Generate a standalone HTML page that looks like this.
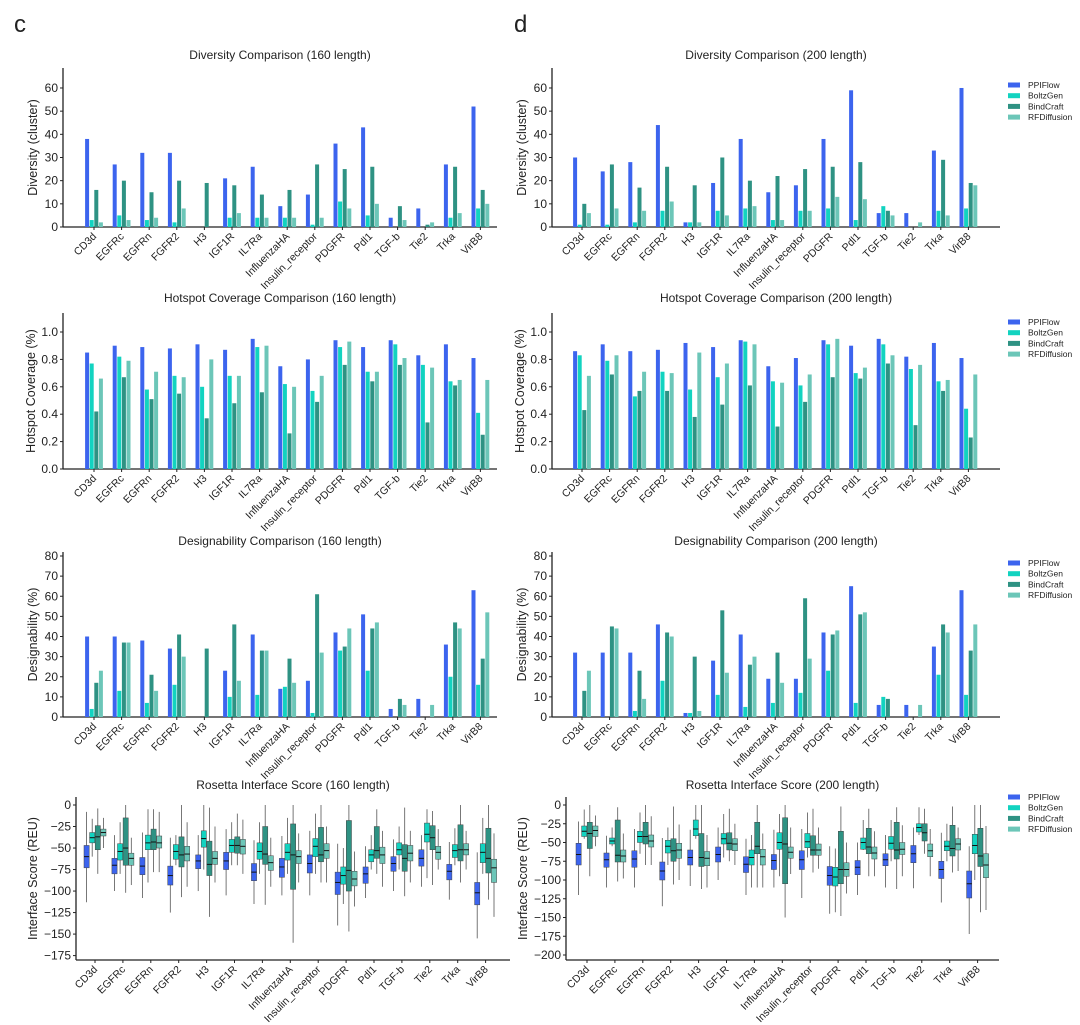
<!DOCTYPE html>
<html><head><meta charset="utf-8"><style>
body{margin:0;background:#fff;}
svg{display:block;font-family:"Liberation Sans",Arial,sans-serif;}
</style></head><body>
<svg id="fig" width="1080" height="1025" viewBox="0 0 1080 1025" xmlns="http://www.w3.org/2000/svg"></svg>
<script>
const categories=["CD3d","EGFRc","EGFRn","FGFR2","H3","IGF1R","IL7Ra","InfluenzaHA","Insulin_receptor","PDGFR","Pdl1","TGF-b","Tie2","Trka","VirB8"];
const seriesNames=["PPIFlow","BoltzGen","BindCraft","RFDiffusion"];
const div160PPI=[38,27,32,32,0,21,26,9,14,36,43,4,8,27,52];
const div160Boltz=[3,5,3,2,0,4,4,4,1,11,5,0,0,4,8];
const div160Bind=[16,20,15,20,19,18,14,16,27,25,26,9,1,26,16];
const div160RFD=[2,3,4,8,0,6,4,4,4,8,10,3,2,6,10];
const div200PPI=[30,24,28,44,2,19,38,15,18,38,59,6,6,33,60];
const div200Boltz=[1,1,2,7,2,7,8,3,7,8,3,9,0,7,8];
const div200Bind=[10,27,17,26,18,30,20,22,25,26,28,7,0,29,19];
const div200RFD=[6,8,7,11,2,5,9,3,7,13,12,5,2,5,18];
const hot160PPI=[.85,.90,.89,.88,.91,.87,.95,.75,.80,.94,.89,.94,.83,.91,.81];
const hot160Boltz=[.77,.82,.58,.68,.60,.68,.89,.62,.57,.89,.71,.91,.76,.64,.41];
const hot160Bind=[.42,.67,.51,.55,.37,.48,.56,.26,.49,.76,.64,.76,.34,.61,.25];
const hot160RFD=[.66,.79,.71,.67,.80,.68,.90,.60,.68,.93,.71,.81,.74,.65,.65];
const hot200PPI=[.86,.91,.86,.87,.92,.89,.94,.75,.81,.94,.90,.95,.82,.92,.81];
const hot200Boltz=[.83,.79,.53,.71,.58,.67,.93,.64,.61,.91,.70,.91,.73,.64,.44];
const hot200Bind=[.43,.69,.57,.57,.38,.47,.61,.31,.49,.67,.66,.77,.32,.57,.23];
const hot200RFD=[.68,.83,.71,.70,.85,.77,.91,.63,.69,.95,.74,.83,.76,.65,.69];
const des160PPI=[40,40,38,34,0,23,41,14,18,42,51,4,9,36,63];
const des160Boltz=[4,13,7,16,0,10,11,15,2,33,23,0,0,20,16];
const des160Bind=[17,37,21,41,34,46,33,29,61,35,44,9,0,47,29];
const des160RFD=[23,37,13,30,0,18,33,17,32,44,47,6,6,44,52];
const des200PPI=[32,32,32,46,2,28,41,19,19,42,65,6,6,35,63];
const des200Boltz=[0,0,3,18,2,11,5,7,12,23,7,10,0,21,11];
const des200Bind=[13,45,23,42,30,53,26,32,59,41,51,9,0,46,33];
const des200RFD=[23,44,9,40,3,22,30,17,29,43,52,0,6,42,46];
const ros160PPI=[[-113,-73,-60,-47,-8],[-100,-80,-70,-62,-35],[-108,-81,-71,-61,-32],[-125,-93,-82,-71,-38],[-100,-74,-65,-58,-35],[-105,-75,-65,-55,-28],[-115,-88,-78,-68,-41],[-105,-84,-72,-62,-36],[-105,-79,-68,-58,-30],[-140,-104,-90,-78,-45],[-108,-91,-80,-72,-48],[-100,-77,-68,-60,-40],[-95,-71,-62,-52,-35],[-110,-87,-77,-69,-43],[-155,-116,-102,-90,-55]];
const ros160Boltz=[[-60,-44,-38,-32,-16],[-80,-64,-54,-45,-20],[-90,-52,-44,-35,-5],[-70,-63,-54,-46,-35],[-75,-49,-39,-30,0],[-70,-55,-47,-40,-20],[-80,-63,-54,-44,-20],[-80,-64,-55,-45,-15],[-80,-60,-48,-39,-10],[-115,-92,-82,-72,-50],[-75,-66,-58,-52,-35],[-75,-58,-52,-44,-25],[-85,-43,-34,-21,-5],[-70,-61,-53,-46,-27],[-80,-67,-55,-45,-15]];
const ros160Bind=[[-80,-52,-37,-24,-4],[-102,-70,-50,-15,0],[-78,-52,-43,-28,-5],[-107,-72,-58,-37,0],[-130,-82,-69,-42,-3],[-70,-56,-47,-37,-10],[-116,-69,-57,-25,0],[-160,-98,-58,-22,0],[-90,-66,-58,-26,0],[-147,-100,-76,-18,0],[-80,-62,-53,-25,-5],[-106,-77,-62,-46,-3],[-93,-52,-38,-24,-7],[-90,-65,-52,-23,0],[-110,-79,-62,-27,0]];
const ros160RFD=[[-50,-36,-32,-28,-15],[-93,-70,-62,-56,-38],[-78,-50,-44,-36,-8],[-95,-65,-57,-48,-20],[-90,-69,-62,-54,-25],[-80,-57,-48,-40,-17],[-95,-76,-67,-59,-38],[-90,-68,-60,-53,-33],[-90,-62,-53,-45,-25],[-118,-94,-86,-77,-54],[-95,-68,-58,-49,-30],[-90,-65,-56,-47,-30],[-75,-63,-55,-48,-28],[-75,-58,-52,-45,-30],[-130,-90,-73,-63,-33]];
const ros200PPI=[[-120,-80,-66,-51,-22],[-110,-83,-73,-64,-41],[-110,-83,-72,-61,-32],[-135,-100,-88,-76,-44],[-108,-80,-70,-60,-33],[-100,-76,-66,-56,-30],[-120,-90,-79,-69,-45],[-110,-86,-74,-66,-33],[-124,-86,-73,-61,-32],[-145,-107,-94,-82,-55],[-120,-93,-83,-74,-50],[-110,-81,-73,-65,-40],[-111,-77,-65,-54,-30],[-130,-98,-86,-75,-37],[-172,-124,-105,-88,-55]];
const ros200Boltz=[[-45,-42,-35,-28,-6],[-55,-52,-48,-44,-30],[-65,-50,-42,-35,-10],[-80,-64,-55,-47,-30],[-45,-41,-32,-20,0],[-70,-52,-45,-38,-12],[-110,-80,-70,-60,-40],[-95,-59,-50,-37,-12],[-70,-57,-49,-38,-10],[-143,-108,-96,-83,-58],[-60,-59,-50,-44,-20],[-75,-59,-51,-42,-20],[-40,-36,-30,-25,-3],[-75,-61,-55,-48,-25],[-100,-65,-54,-39,0]];
const ros200Bind=[[-95,-58,-38,-23,0],[-102,-76,-67,-20,-3],[-80,-52,-42,-23,0],[-106,-75,-61,-45,-2],[-112,-82,-70,-38,0],[-75,-60,-51,-37,-5],[-110,-65,-55,-23,0],[-150,-105,-52,-17,0],[-90,-67,-60,-41,-5],[-148,-105,-86,-35,-2],[-95,-65,-56,-31,-5],[-112,-72,-60,-23,-3],[-65,-48,-37,-25,-5],[-90,-68,-58,-27,-2],[-143,-82,-68,-31,0]];
const ros200RFD=[[-55,-42,-34,-28,-14],[-98,-76,-68,-60,-38],[-80,-56,-48,-40,-15],[-100,-71,-60,-51,-26],[-110,-81,-71,-62,-40],[-80,-61,-52,-45,-25],[-110,-80,-69,-59,-38],[-92,-71,-63,-56,-30],[-85,-67,-60,-52,-30],[-118,-95,-86,-77,-50],[-95,-72,-64,-56,-35],[-95,-66,-59,-50,-27],[-95,-69,-61,-52,-32],[-88,-60,-52,-45,-30],[-140,-97,-80,-65,-28]];
const ticksDiv=[0,10,20,30,40,50,60];
const ticksHot=[0,0.2,0.4,0.6,0.8,1.0];
const ticksDes=[0,10,20,30,40,50,60,70,80];
const ticksRos160=[0,-25,-50,-75,-100,-125,-150,-175];
const ticksRos200=[0,-25,-50,-75,-100,-125,-150,-175,-200];

const colors=["#3c64ee","#12d3c0","#2e9283","#6cc6b8"];
const NS="http://www.w3.org/2000/svg";
const svg=document.getElementById("fig");
function mk(tag,attrs,parent){const e=document.createElementNS(NS,tag);for(const k in attrs)e.setAttribute(k,attrs[k]);(parent||svg).appendChild(e);return e;}
function txt(x,y,s,size,anchor,parent){const t=mk("text",{x:x,y:y,"font-size":size,"text-anchor":anchor||"start",fill:"#222"},parent);t.textContent=s;return t;}

function frame(p,g){
  const yS=v=>p.y0-(v-p.vmin)*p.k;
  const ya=mk("line",{x1:p.x0,y1:p.top,x2:p.x0,y2:p.axisY,stroke:"#222","stroke-width":1.3},g);
  
  
  const xa=mk("line",{x1:p.x0,y1:p.axisY,x2:p.x1,y2:p.axisY,stroke:"#222","stroke-width":1.3},g);
  
  
  p.ticks.forEach(v=>{
    const y=yS(v);
    mk("line",{x1:p.x0-3,y1:y,x2:p.x0,y2:y,stroke:"#222","stroke-width":1},g);
    const t=txt(p.x0-5,y+4,p.fmt(v),12,"end",g);
    
    
  });
  categories.forEach((c,i)=>{
    const x=p.c0+i*p.step;
    mk("line",{x1:x,y1:p.axisY,x2:x,y2:p.axisY+3,stroke:"#222","stroke-width":1},g);
    const t=txt(0,0,c,10.5,"end",g);
    t.setAttribute("transform",`translate(${x+3},${p.axisY+10}) rotate(-45)`);
    
    
  });
  const ti=txt((p.x0+p.x1)/2,p.titleY,p.title,12,"middle",g);
  
  
  const yt=txt(0,0,p.ytitle,12.5,"middle",g);
  yt.setAttribute("transform",`translate(${p.ytx},${(p.top+p.axisY)/2}) rotate(-90)`);
  
  
  return yS;
}
function legend(x,y,g){
  seriesNames.forEach((n,i)=>{
    const r=mk("rect",{x:x,y:y+i*10.7-2.5,width:12,height:5,fill:colors[i]},g);
    
    
    const t=txt(x+20,y+i*10.7+3,n,8.5,"start",g);
    
    
  });
}
function barChart(p,series,name){
  const g=mk("g",{});
  
  
  const yS=frame(p,g);
  series.forEach((arr,s)=>{
    arr.forEach((v,i)=>{
      const cx=p.c0+i*p.step+(s-1.5)*4.6;
      const y=yS(v);
      const r=mk("rect",{x:cx-2,y:Math.min(y,p.axisY),width:4,height:Math.abs(p.axisY-y),fill:colors[s]},g);
      
      
    });
  });
  if(p.legY)legend(1008,p.legY,g);
}
function boxChart(p,series,name){
  const g=mk("g",{});
  
  
  const yS=frame(p,g);
  series.forEach((arr,s)=>{
    arr.forEach((b,i)=>{
      const cx=p.c0+i*p.step+(s-1.5)*5.6;
      mk("line",{x1:cx,y1:yS(b[0]),x2:cx,y2:yS(b[4]),stroke:"#555","stroke-width":0.8},g);
      const r=mk("rect",{x:cx-2.6,y:yS(b[3]),width:5.2,height:yS(b[1])-yS(b[3]),fill:colors[s],stroke:"#444","stroke-width":0.5},g);
      
      
      mk("line",{x1:cx-2.6,y1:yS(b[2]),x2:cx+2.6,y2:yS(b[2]),stroke:"#111","stroke-width":1},g);
    });
  });
  if(p.legY)legend(1008,p.legY,g);
}
const f0=v=>String(v), f1=v=>v.toFixed(1), fneg=v=>(v<0?"\u2212"+(-v):"0");
const L={x0:63,x1:497,c0:94,step:27.6,ytx:37};
const R={x0:552,x1:1000,c0:582,step:27.6,ytx:526};
barChart(Object.assign({},L,{y0:227,axisY:227,top:68,vmin:0,k:2.317,ticks:ticksDiv,fmt:f0,title:"Diversity Comparison (160 length)",titleY:59,ytitle:"Diversity  (cluster)"}),[div160PPI,div160Boltz,div160Bind,div160RFD],"diversity-160-chart");
barChart(Object.assign({},R,{y0:227,axisY:227,top:68,vmin:0,k:2.317,ticks:ticksDiv,fmt:f0,title:"Diversity Comparison (200 length)",titleY:59,ytitle:"Diversity  (cluster)",legY:85}),[div200PPI,div200Boltz,div200Bind,div200RFD],"diversity-200-chart");
barChart(Object.assign({},L,{y0:469,axisY:469,top:313,vmin:0,k:137,ticks:ticksHot,fmt:f1,title:"Hotspot Coverage Comparison (160 length)",titleY:302,ytitle:"Hotspot Coverage (%)",ytx:35}),[hot160PPI,hot160Boltz,hot160Bind,hot160RFD],"hotspot-160-chart");
barChart(Object.assign({},R,{y0:469,axisY:469,top:313,vmin:0,k:137,ticks:ticksHot,fmt:f1,title:"Hotspot Coverage Comparison (200 length)",titleY:302,ytitle:"Hotspot Coverage (%)",ytx:524,legY:322}),[hot200PPI,hot200Boltz,hot200Bind,hot200RFD],"hotspot-200-chart");
barChart(Object.assign({},L,{y0:717,axisY:717,top:552,vmin:0,k:2.0125,ticks:ticksDes,fmt:f0,title:"Designability Comparison (160 length)",titleY:545,ytitle:"Designability (%)"}),[des160PPI,des160Boltz,des160Bind,des160RFD],"designability-160-chart");
barChart(Object.assign({},R,{y0:717,axisY:717,top:552,vmin:0,k:2.0125,ticks:ticksDes,fmt:f0,title:"Designability Comparison (200 length)",titleY:545,ytitle:"Designability (%)",legY:563}),[des200PPI,des200Boltz,des200Bind,des200RFD],"designability-200-chart");
boxChart({x0:76,x1:510,c0:95,step:27.9,ytx:37,y0:805,axisY:960,top:797,vmin:0,k:150.6/175,ticks:ticksRos160,fmt:fneg,title:"Rosetta Interface Score (160 length)",titleY:789,ytitle:"Interface Score (REU)"},[ros160PPI,ros160Boltz,ros160Bind,ros160RFD],"rosetta-160-chart");
boxChart({x0:566,x1:999,c0:587,step:27.9,ytx:527,y0:805,axisY:960,top:797,vmin:0,k:150/200,ticks:ticksRos200,fmt:fneg,title:"Rosetta Interface Score (200 length)",titleY:789,ytitle:"Interface Score (REU)",legY:797},[ros200PPI,ros200Boltz,ros200Bind,ros200RFD],"rosetta-200-chart");
const pc=txt(14,32,"c",24,"start");


const pd=txt(514,32,"d",24,"start");


</script>
</body></html>
